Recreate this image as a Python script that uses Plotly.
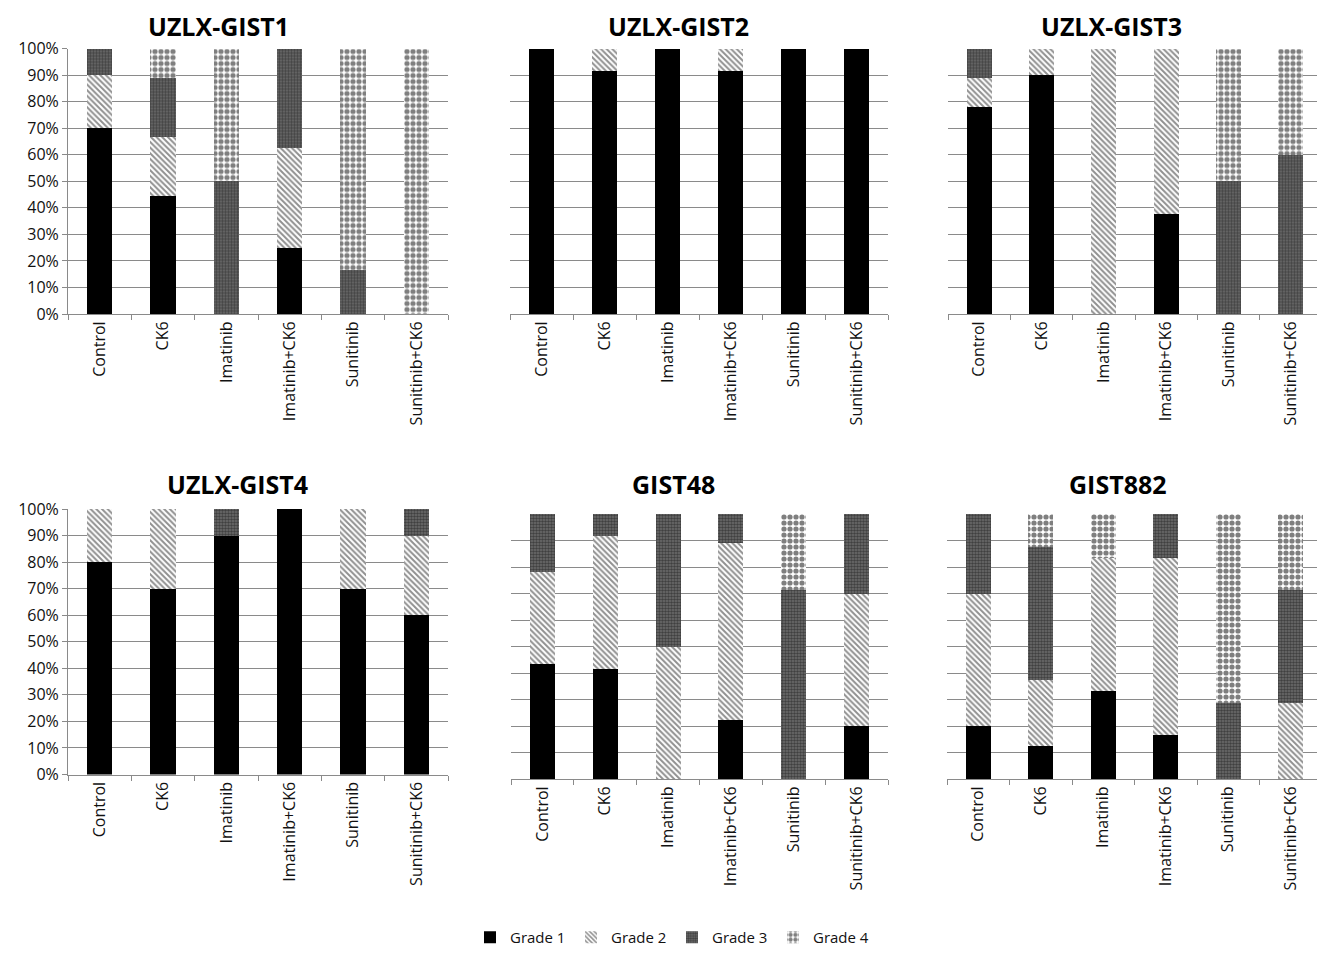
import plotly.graph_objects as go

categories = ["Control", "CK6", "Imatinib", "Imatinib+CK6", "Sunitinib", "Sunitinib+CK6"]
grades = ["Grade 1", "Grade 2", "Grade 3", "Grade 4"]
panel_titles = ["UZLX-GIST1", "UZLX-GIST2", "UZLX-GIST3", "UZLX-GIST4", "GIST48", "GIST882"]

# percentages per grade, per panel
gist1_g1 = [70, 44.4, 0, 25, 0, 0]
gist1_g2 = [20, 22.2, 0, 37.5, 0, 0]
gist1_g3 = [10, 22.2, 50, 37.5, 16.7, 0]
gist1_g4 = [0, 11.1, 50, 0, 83.3, 100]

gist2_g1 = [100, 91.7, 100, 91.7, 100, 100]
gist2_g2 = [0, 8.3, 0, 8.3, 0, 0]
gist2_g3 = [0, 0, 0, 0, 0, 0]
gist2_g4 = [0, 0, 0, 0, 0, 0]

gist3_g1 = [77.8, 90, 0, 37.5, 0, 0]
gist3_g2 = [11.1, 10, 100, 62.5, 0, 0]
gist3_g3 = [11.1, 0, 0, 0, 50, 60]
gist3_g4 = [0, 0, 0, 0, 50, 40]

gist4_g1 = [80, 70, 90, 100, 70, 60]
gist4_g2 = [20, 30, 0, 0, 30, 30]
gist4_g3 = [0, 0, 10, 0, 0, 10]
gist4_g4 = [0, 0, 0, 0, 0, 0]

gist48_g1 = [43.5, 41.7, 0, 22.2, 0, 20]
gist48_g2 = [34.8, 50, 50, 66.7, 0, 50]
gist48_g3 = [21.7, 8.3, 50, 11.1, 71.4, 30]
gist48_g4 = [0, 0, 0, 0, 28.6, 0]

gist882_g1 = [20, 12.5, 33.3, 16.7, 0, 0]
gist882_g2 = [50, 25, 50, 66.7, 0, 28.6]
gist882_g3 = [30, 50, 0, 16.7, 28.6, 42.8]
gist882_g4 = [0, 12.5, 16.7, 0, 71.4, 28.6]

panels = [
    [gist1_g1, gist1_g2, gist1_g3, gist1_g4],
    [gist2_g1, gist2_g2, gist2_g3, gist2_g4],
    [gist3_g1, gist3_g2, gist3_g3, gist3_g4],
    [gist4_g1, gist4_g2, gist4_g3, gist4_g4],
    [gist48_g1, gist48_g2, gist48_g3, gist48_g4],
    [gist882_g1, gist882_g2, gist882_g3, gist882_g4],
]

# the page body has an 8px margin: figure is sized/positioned to compensate
OFF = 8
W, H = 1325 - OFF, 962 - 16
# plot-area boxes in page pixels (x0, x1, y_top, y_bottom)
boxes = [
    (68, 448, 48.5, 314),
    (510, 888, 48.5, 314),
    (948, 1322, 48.5, 314),
    (68, 448, 509, 774.5),
    (511, 888, 514, 779),
    (947, 1322, 514, 779),
]
# title centre x and top edge y (page pixels)
title_pos = [(219, 8), (678, 8), (1111, 8), (237, 466), (673, 466), (1118, 466)]


def px(x):
    return (x - OFF) / W


def py(y):
    return 1 - (y - OFF) / H


styles = [
    dict(color="black"),
    dict(color="white", pattern=dict(shape="\\", fgcolor="#222222", bgcolor="white", size=4, solidity=0.5)),
    dict(color="#666666", pattern=dict(shape=".", fgcolor="#111111", bgcolor="#6e6e6e", size=3, solidity=0.55)),
    dict(color="white", pattern=dict(shape=".", fgcolor="black", bgcolor="white", size=6, solidity=0.6)),
]

FONT = "Open Sans"
fig = go.Figure()
for i, data in enumerate(panels):
    ax = "" if i == 0 else str(i + 1)
    for g, vals in enumerate(data):
        fig.add_trace(go.Bar(
            x=categories, y=vals, name=grades[g],
            xaxis="x" + ax, yaxis="y" + ax,
            marker=dict(**styles[g], line=dict(width=0)),
            legendgroup=grades[g], showlegend=(i == 0),
        ))
    x0, x1, yt, yb = boxes[i]
    show_y = i in (0, 3)
    fig.layout["xaxis" + ax] = dict(
        domain=[px(x0), px(x1)], anchor="y" + ax,
        showline=True, linecolor="#8a8a8a", linewidth=1,
        ticks="outside", tickson="boundaries", ticklen=5, tickcolor="#8a8a8a",
        tickangle=-90, tickfont=dict(family=FONT, size=16, color="#111"),
        showgrid=False, fixedrange=True, automargin=False,
    )
    fig.layout["yaxis" + ax] = dict(
        domain=[py(yb), py(yt)], anchor="x" + ax,
        range=[0, 100], dtick=10, ticksuffix="%",
        showgrid=True, gridcolor="#8a8a8a", gridwidth=1,
        showline=show_y, linecolor="#8a8a8a", linewidth=1,
        ticks="outside" if show_y else "", ticklen=5, tickcolor="#8a8a8a",
        showticklabels=show_y, tickfont=dict(family=FONT, size=16, color="#111"),
        zeroline=False, fixedrange=True, automargin=False,
    )
    tx, ty = title_pos[i]
    fig.add_annotation(text="<b>" + panel_titles[i] + "</b>", x=px(tx), y=py(ty),
                       xref="paper", yref="paper", showarrow=False,
                       xanchor="center", yanchor="top", borderpad=0,
                       font=dict(family=FONT, size=25, color="black"))

fig.update_layout(
    width=W, height=H, barmode="stack", bargap=0.6,
    margin=dict(l=0, r=0, t=0, b=0, autoexpand=False),
    paper_bgcolor="white", plot_bgcolor="white",
    showlegend=True,
    legend=dict(orientation="h", x=px(672), xanchor="center", y=0.0, yanchor="bottom",
                font=dict(family=FONT, size=15, color="#111"), traceorder="normal",
                itemwidth=30, entrywidth=56, tracegroupgap=0),
)
fig.write_html("out.html")
